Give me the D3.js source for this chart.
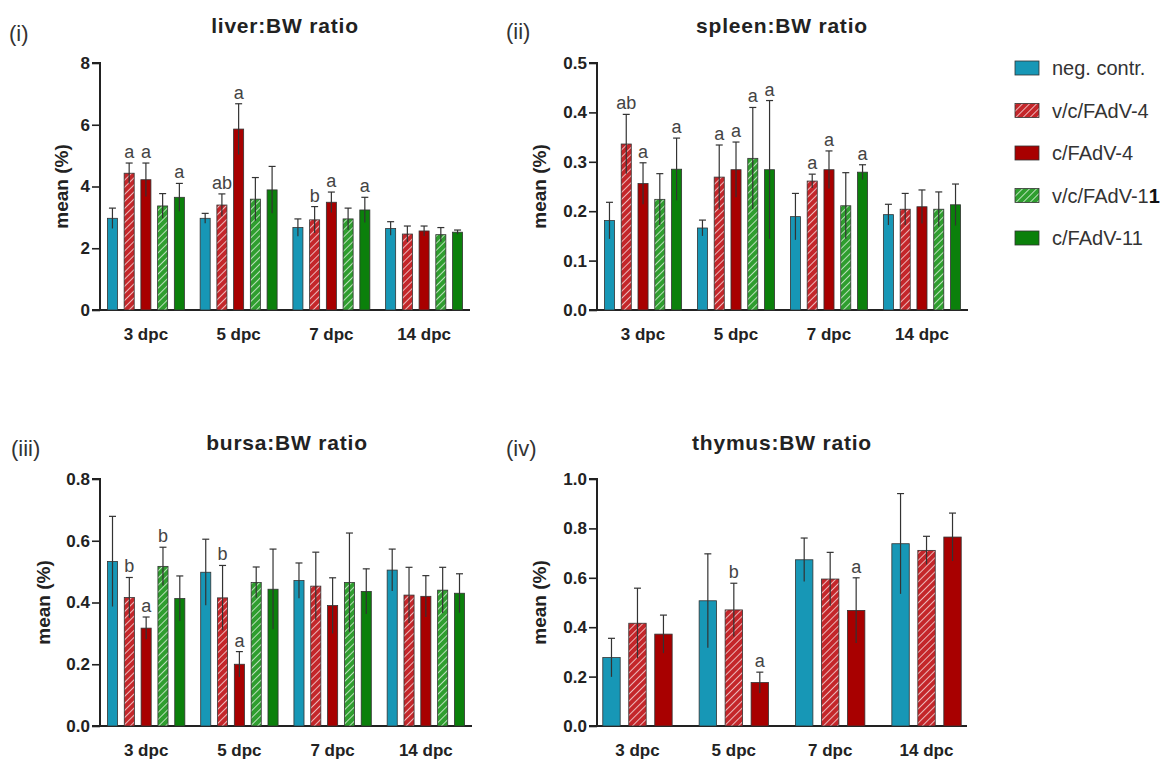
<!DOCTYPE html>
<html>
<head>
<meta charset="utf-8">
<script src="https://cdn.jsdelivr.net/npm/d3@7"></script>
<style>
  body { margin: 0; background: #fff; }
  svg { font-family: "Liberation Sans", Arial, sans-serif; }
</style>
</head>
<body>
<div id="chart"></div>
<script>
var days = ["3 dpc", "5 dpc", "7 dpc", "14 dpc"];
var groups = ["neg. contr.", "v/c/FAdV-4", "c/FAdV-4", "v/c/FAdV-11", "c/FAdV-11"];

// liver, one row per group, one value per day
var liverMean = [
  [2.97, 2.97, 2.67, 2.64],
  [4.43, 3.40, 2.92, 2.46],
  [4.22, 5.86, 3.49, 2.56],
  [3.37, 3.59, 2.95, 2.44],
  [3.65, 3.89, 3.24, 2.52]
];
var liverSd = [
  [0.33, 0.16, 0.28, 0.22],
  [0.33, 0.36, 0.43, 0.26],
  [0.54, 0.82, 0.33, 0.16],
  [0.40, 0.70, 0.35, 0.23],
  [0.45, 0.76, 0.41, 0.07]
];
var liverLetters = [
  ["", "", "", ""],
  ["a", "ab", "b", ""],
  ["a", "a", "a", ""],
  ["", "", "", ""],
  ["a", "", "a", ""]
];

var spleenMean = [
  [0.181, 0.166, 0.189, 0.193],
  [0.336, 0.269, 0.261, 0.204],
  [0.256, 0.284, 0.284, 0.209],
  [0.224, 0.307, 0.211, 0.204],
  [0.285, 0.284, 0.279, 0.213]
];
var spleenSd = [
  [0.037, 0.016, 0.047, 0.021],
  [0.060, 0.065, 0.014, 0.032],
  [0.042, 0.056, 0.038, 0.034],
  [0.052, 0.103, 0.067, 0.035],
  [0.063, 0.140, 0.015, 0.042]
];
var spleenLetters = [
  ["", "", "", ""],
  ["ab", "a", "a", ""],
  ["a", "a", "a", ""],
  ["", "a", "", ""],
  ["a", "a", "a", ""]
];

var bursaMean = [
  [0.533, 0.498, 0.471, 0.505],
  [0.416, 0.415, 0.453, 0.424],
  [0.317, 0.200, 0.390, 0.420],
  [0.517, 0.465, 0.465, 0.440],
  [0.413, 0.443, 0.436, 0.430]
];
var bursaSd = [
  [0.146, 0.107, 0.057, 0.068],
  [0.065, 0.105, 0.110, 0.090],
  [0.036, 0.041, 0.090, 0.067],
  [0.062, 0.050, 0.160, 0.074],
  [0.073, 0.130, 0.073, 0.063]
];
var bursaLetters = [
  ["", "", "", ""],
  ["b", "b", "", ""],
  ["a", "a", "", ""],
  ["b", "", "", ""],
  ["", "", "", ""]
];

var thymusMean = [
  [0.277, 0.507, 0.673, 0.738],
  [0.416, 0.470, 0.595, 0.711],
  [0.372, 0.176, 0.468, 0.765]
];
var thymusSd = [
  [0.078, 0.190, 0.088, 0.203],
  [0.142, 0.108, 0.108, 0.057],
  [0.077, 0.042, 0.132, 0.097]
];
var thymusLetters = [
  ["", "", "", ""],
  ["", "b", "", ""],
  ["", "a", "a", ""]
];

var liverTicks = [0, 2, 4, 6, 8];
var spleenTicks = [0, 0.1, 0.2, 0.3, 0.4, 0.5];
var bursaTicks = [0, 0.2, 0.4, 0.6, 0.8];
var thymusTicks = [0, 0.2, 0.4, 0.6, 0.8, 1.0];

var fills = ["#1797b6", "url(#hatchRed)", "#a80000", "url(#hatchGreen)", "#0b800b"];

var width = 1174, height = 762;
var svg = d3.select("#chart").append("svg")
  .attr("width", width).attr("height", height);

var defs = svg.append("defs");
function hatch(id, bg) {
  var p = defs.append("pattern").attr("id", id)
    .attr("patternUnits", "userSpaceOnUse")
    .attr("width", 5).attr("height", 5)
    .attr("patternTransform", "rotate(45)");
  p.append("rect").attr("width", 5).attr("height", 5).attr("fill", bg);
  p.append("line").attr("x1", 0).attr("y1", 0).attr("x2", 0).attr("y2", 5)
    .attr("stroke", "#fff").attr("stroke-width", 1.6).attr("stroke-opacity", 0.85);
}
hatch("hatchRed", "#c4262a");
hatch("hatchGreen", "#2f9e2f");

function drawPanel(opt) {
  var g = svg.append("g");
  var y = d3.scaleLinear().domain([0, opt.max]).range([opt.y0, opt.y1]);
  var x = d3.scaleBand().domain(days).range([opt.x0, opt.x1])
    .paddingInner(opt.padIn).paddingOuter(opt.padOut);
  var sub = d3.scaleBand().domain(d3.range(opt.mean.length))
    .range([0, x.bandwidth()]).paddingInner(opt.subPad);

  var yAxis = d3.axisLeft(y).tickValues(opt.ticks).tickSize(8).tickPadding(2)
    .tickFormat(opt.fmt);
  var ya = g.append("g").attr("transform", "translate(" + opt.x0 + ",0)").call(yAxis);
  ya.select(".domain").attr("stroke", "#222").attr("stroke-width", 2)
    .attr("d", "M-8," + y(opt.max) + "H0V" + y(0));
  ya.selectAll(".tick line").attr("stroke", "#222").attr("stroke-width", 1.6);
  ya.selectAll("text").attr("font-size", 17).attr("font-weight", "bold").attr("fill", "#222");

  g.append("line").attr("x1", opt.x0 - 8).attr("x2", opt.x1)
    .attr("y1", y(0)).attr("y2", y(0)).attr("stroke", "#222").attr("stroke-width", 2);

  g.selectAll("text.day").data(days).enter().append("text")
    .attr("x", function (d) { return x(d) + x.bandwidth() / 2; })
    .attr("y", y(0) + 30)
    .attr("text-anchor", "middle").attr("font-size", 17).attr("font-weight", "bold")
    .attr("fill", "#222").text(function (d) { return d; });

  opt.mean.forEach(function (row, gi) {
    row.forEach(function (v, di) {
      var bx = x(days[di]) + sub(gi);
      var bw = sub.bandwidth();
      var cx = bx + bw / 2;
      var sd = opt.sd[gi][di];
      g.append("rect").attr("x", bx).attr("y", y(v))
        .attr("width", bw).attr("height", y(0) - y(v))
        .attr("fill", fills[gi]).attr("stroke", "#333").attr("stroke-width", 0.8);
      g.append("line").attr("x1", cx).attr("x2", cx)
        .attr("y1", y(v - sd)).attr("y2", y(v + sd))
        .attr("stroke", "#333").attr("stroke-width", 1.2);
      g.append("line").attr("x1", cx - 3.5).attr("x2", cx + 3.5)
        .attr("y1", y(v + sd)).attr("y2", y(v + sd))
        .attr("stroke", "#333").attr("stroke-width", 1.2);
      var lt = opt.letters[gi][di];
      if (lt) {
        g.append("text").attr("x", cx).attr("y", y(v + sd) - 5)
          .attr("text-anchor", "middle").attr("font-size", 18)
          .attr("fill", "#444").text(lt);
      }
    });
  });

  g.append("text")
    .attr("transform", "translate(" + opt.labelX + "," + ((y(0) + y(opt.max)) / 2) + ") rotate(-90)")
    .attr("text-anchor", "middle").attr("font-size", 19).attr("font-weight", "bold")
    .attr("fill", "#222").text("mean (%)");

  g.append("text").attr("x", opt.titleX).attr("y", opt.titleY)
    .attr("text-anchor", "middle").attr("font-size", 21).attr("font-weight", "bold")
    .attr("letter-spacing", 0.8)
    .attr("fill", "#222").text(opt.title);

  g.append("text").attr("x", opt.tagX).attr("y", opt.tagY)
    .attr("font-size", 22).attr("fill", "#333").text(opt.tag);
}

var fmt1 = d3.format(".1f");

drawPanel({ mean: liverMean, sd: liverSd, letters: liverLetters, ticks: liverTicks,
  max: 8, fmt: d3.format("d"), x0: 100, x1: 470, y0: 310, y1: 63,
  padIn: 0.17, padOut: 0.08, subPad: 0.4, labelX: 68,
  title: "liver:BW ratio", titleX: 285, titleY: 33, tag: "(i)", tagX: 9, tagY: 41 });

drawPanel({ mean: spleenMean, sd: spleenSd, letters: spleenLetters, ticks: spleenTicks,
  max: 0.5, fmt: fmt1, x0: 597, x1: 968, y0: 310, y1: 63,
  padIn: 0.17, padOut: 0.08, subPad: 0.4, labelX: 546,
  title: "spleen:BW ratio", titleX: 782, titleY: 33, tag: "(ii)", tagX: 506, tagY: 39 });

drawPanel({ mean: bursaMean, sd: bursaSd, letters: bursaLetters, ticks: bursaTicks,
  max: 0.8, fmt: fmt1, x0: 100, x1: 472, y0: 726, y1: 479,
  padIn: 0.17, padOut: 0.08, subPad: 0.4, labelX: 50,
  title: "bursa:BW ratio", titleX: 287, titleY: 450, tag: "(iii)", tagX: 11, tagY: 456 });

drawPanel({ mean: thymusMean, sd: thymusSd, letters: thymusLetters, ticks: thymusTicks,
  max: 1.0, fmt: fmt1, x0: 597, x1: 967, y0: 726, y1: 479,
  padIn: 0.28, padOut: 0.06, subPad: 0.33, labelX: 546,
  title: "thymus:BW ratio", titleX: 782, titleY: 450, tag: "(iv)", tagX: 506, tagY: 456 });

// legend
var legend = svg.append("g").attr("transform", "translate(1015,61)");
groups.forEach(function (name, i) {
  var row = legend.append("g").attr("transform", "translate(0," + (i * 42.5) + ")");
  row.append("rect").attr("width", 24).attr("height", 14)
    .attr("fill", fills[i]).attr("stroke", "#333").attr("stroke-width", 0.8);
  var t = row.append("text").attr("x", 37).attr("y", 14)
    .attr("font-size", 20).attr("fill", "#333");
  if (name === "v/c/FAdV-11") {
    t.append("tspan").text("v/c/FAdV-1");
    t.append("tspan").attr("font-weight", "bold").attr("fill", "#111").text("1");
  } else {
    t.text(name);
  }
});
</script>
</body>
</html>
